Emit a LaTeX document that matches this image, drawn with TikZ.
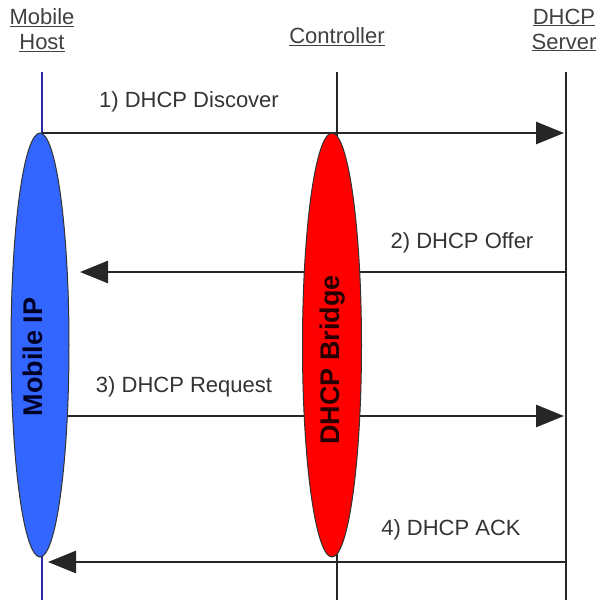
\documentclass[tikz,border=0pt]{standalone}
\usepackage{fontspec}
\setmainfont{Liberation Sans}
\usetikzlibrary{shapes.geometric,arrows.meta}
\definecolor{hostblue}{RGB}{40,40,170}
\definecolor{ellblue}{RGB}{51,102,255}
\definecolor{ellred}{RGB}{255,0,0}
\begin{document}
\begin{tikzpicture}[x=1pt,y=-1pt,
  hdr/.style={text=black!75, font=\fontsize{22}{25}\selectfont, align=center, inner sep=0pt},
  lbl/.style={text=black!80, font=\fontsize{22}{24}\selectfont, inner sep=0pt},
  life/.style={line width=2.4pt, black!85},
  msg/.style={line width=2.8pt, black!85, -{Triangle[length=28pt,width=22pt]}},
  ell/.style={ellipse, draw=black!80, line width=1pt, inner sep=0pt},
  etxt/.style={font=\bfseries\fontsize{27}{30}\selectfont, rotate=90, inner sep=0pt}]
\useasboundingbox (0,0) rectangle (598,600);
% headers
\node[hdr] (hMH) at (42,30) {\underline{Mobile}\\\underline{Host}};
\node[hdr] (hCT) at (337,37) {\underline{Controller}};
\node[hdr] (hSV) at (564,30) {\underline{DHCP}\\\underline{Server}};
% lifeline ends
\coordinate (mhT) at (42,72);  \coordinate (mhB) at (42,600);
\coordinate (ctT) at (337,72); \coordinate (ctB) at (337,600);
\coordinate (svT) at (566,72); \coordinate (svB) at (566,600);
\draw[life, hostblue] (mhT) -- (mhB);
\draw[life] (ctT) -- (ctB);
\draw[life] (svT) -- (svB);
% message end points
\coordinate (m1s) at (42,133);  \coordinate (m1e) at (564,133);
\coordinate (m2s) at (566,272); \coordinate (m2e) at (80,272);
\coordinate (m3s) at (67,416);  \coordinate (m3e) at (564,416);
\coordinate (m4s) at (566,562); \coordinate (m4e) at (48,562);
\draw[msg] (m1s) -- (m1e);
\draw[msg] (m2s) -- (m2e);
\draw[msg] (m3s) -- (m3e);
\draw[msg] (m4s) -- (m4e);
% labels
\node[lbl] (l1) at (189,102) {1) DHCP Discover};
\node[lbl] (l2) at (462,243) {2) DHCP Offer};
\node[lbl] (l3) at (184,387) {3) DHCP Request};
\node[lbl] (l4) at (451,530) {4) DHCP ACK};
% ellipses
\node[ell, fill=ellblue, minimum width=58pt, minimum height=424pt] (mip) at (40,345) {};
\node[ell, fill=ellred, minimum width=59pt, minimum height=424pt] (bridge) at (332,345) {};
\node[etxt, text=black!85!blue] (mipt) at (33,357) {Mobile IP};
\node[etxt, text=black!85!red] (brt) at (333,360) {DHCP Bridge};
\end{tikzpicture}
\end{document}
